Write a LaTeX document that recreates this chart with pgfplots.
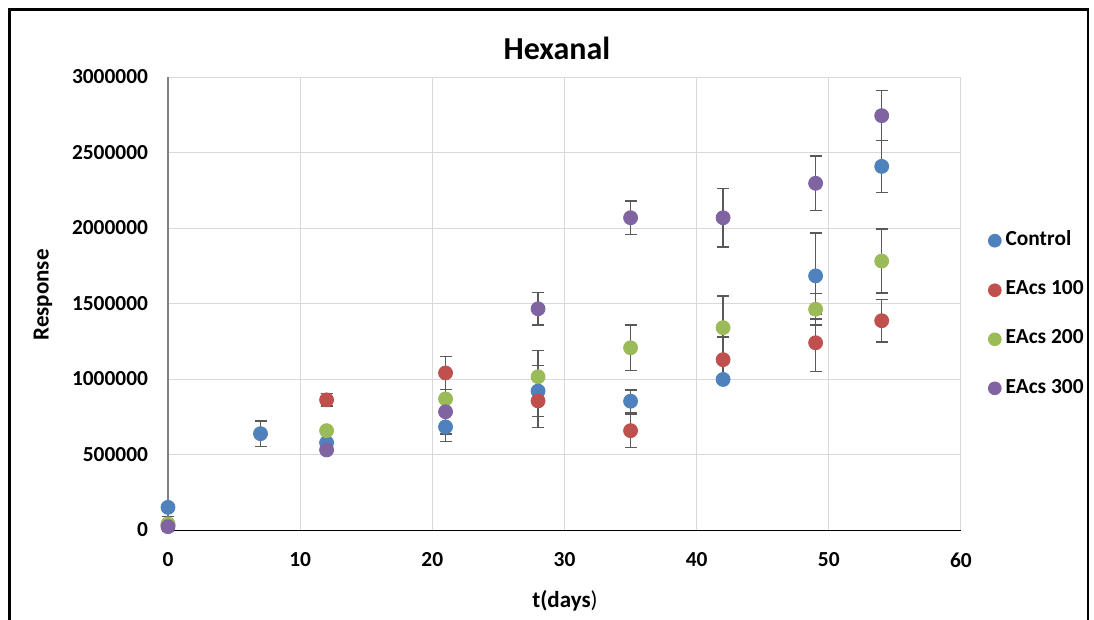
\documentclass[border=0pt]{standalone}
\usepackage{fontspec}
\setmainfont{Carlito}
\usepackage{pgfplots}
\usepackage{pgfplotstable}
\pgfplotsset{compat=1.18}

\definecolor{cCtrl}{HTML}{4F81BD}
\definecolor{cE100}{HTML}{C0504D}
\definecolor{cE200}{HTML}{9BBB59}
\definecolor{cE300}{HTML}{8064A2}
\definecolor{gridgray}{HTML}{D9D9D9}
\definecolor{errgray}{HTML}{595959}

% day, mean response, error (+-)
\pgfplotstableread{
x y e
0 150000 15000
7 638000 85000
12 578000 15000
21 683000 95000
28 920000 168000
35 853000 75000
42 997000 15000
49 1683000 285000
54 2408000 172000
}\tctrl
\pgfplotstableread{
x y e
0 30000 10000
12 862000 42000
21 1040000 110000
28 855000 175000
35 658000 110000
42 1128000 150000
49 1240000 190000
54 1386000 140000
}\tone
\pgfplotstableread{
x y e
0 40000 50000
12 658000 15000
21 868000 15000
28 1015000 175000
35 1207000 150000
42 1340000 210000
49 1462000 105000
54 1781000 212000
}\ttwo
\pgfplotstableread{
x y e
0 22000 15000
12 530000 15000
21 783000 147000
28 1465000 108000
35 2068000 110000
42 2068000 195000
49 2296000 182000
54 2744000 165000
}\tthree

\pgfplotsset{
  errs/.style={only marks, mark=none, forget plot,
    error bars/.cd, y dir=both, y explicit,
    error bar style={color=errgray, line width=0.7pt},
    error mark options={rotate=90, mark size=3pt, line width=0.7pt, color=errgray}},
  dot/.style={only marks, mark=*, mark size=3.5pt, color=#1,
    mark options={solid, draw=#1, fill=#1}},
}

\begin{document}
\begin{tikzpicture}
\useasboundingbox (0,0) rectangle (547pt,-310pt);
\draw[line width=1.1pt] (4.75pt,-320pt) -- (4.75pt,-4.75pt) -- (544pt,-4.75pt) -- (544pt,-320pt);
\begin{axis}[
    at={(84pt,-265pt)}, anchor=south west,
    scale only axis,
    width=396.5pt, height=226.5pt,
    xmin=0, xmax=60, ymin=0, ymax=3000000,
    xtick={0,10,...,60},
    ytick={0,500000,...,3000000},
    scaled y ticks=false,
    /pgf/number format/assume math mode=true,
    yticklabel style={/pgf/number format/fixed, /pgf/number format/1000 sep={},
        font=\fontsize{10.7}{12}\selectfont\bfseries, xshift=-6.5pt},
    xticklabel style={font=\fontsize{10.7}{12}\selectfont\bfseries, anchor=center, yshift=-15pt},
    major tick length=0pt,
    grid=major,
    major grid style={color=gridgray, line width=0.5pt},
    axis x line*=bottom, axis y line*=left,
    x axis line style={black, line width=0.5pt, -},
    y axis line style={color=gray, line width=0.8pt, -},
    every axis title shift=0pt,
    title={Hexanal},
    title style={font=\fontsize{16}{19}\selectfont\bfseries, at={(axis description cs:0.4905,1.064)}, anchor=center},
    xlabel={t(days{\mdseries)}},
    xlabel style={font=\fontsize{11.5}{13}\selectfont\bfseries, at={(axis description cs:0.5006,-0.157)}, anchor=center},
    ylabel={Response},
    ylabel style={font=\fontsize{11.5}{13}\selectfont\bfseries, at={(axis description cs:-0.1576,0.519)}, anchor=center},
    legend style={at={(axis description cs:1.026,0.478)}, anchor=west, draw=none, fill=none,
        font=\fontsize{10.7}{12}\selectfont\bfseries, row sep=12pt,
        /tikz/every even column/.append style={column sep=1pt}},
    legend cell align=left,
    legend image code/.code={\fill[#1] (0.2em,-0.4pt) circle (3.2pt);},
    clip=false,
]

% error bars first, so that every marker sits on top of them
\addplot[errs] table[x=x, y=y, y error=e] {\tctrl};
\addplot[errs] table[x=x, y=y, y error=e] {\tone};
\addplot[errs] table[x=x, y=y, y error=e] {\ttwo};
\addplot[errs] table[x=x, y=y, y error=e] {\tthree};

\addplot[dot=cCtrl] table[x=x, y=y] {\tctrl};
\addlegendentry{Control}
\addplot[dot=cE100] table[x=x, y=y] {\tone};
\addlegendentry{EAcs 100}
\addplot[dot=cE200] table[x=x, y=y] {\ttwo};
\addlegendentry{EAcs 200}
\addplot[dot=cE300] table[x=x, y=y] {\tthree};
\addlegendentry{EAcs 300}

\end{axis}
\end{tikzpicture}
\end{document}
